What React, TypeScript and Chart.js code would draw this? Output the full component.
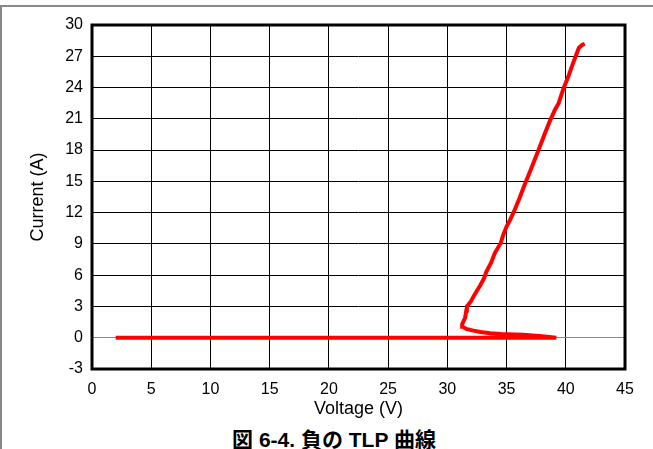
import { useEffect, useRef } from "react";
import { Chart, registerables } from "chart.js";

Chart.register(...registerables);

// TLP curve: voltage (V) and current (A), in drawing order
const voltage = [
  2, 5, 10, 15, 20, 25, 30, 33, 36, 39.2,
  38.0, 36.4, 34.5, 33.6, 32.8, 32.2, 31.6, 31.3, 31.25, 31.5,
  31.6, 31.65, 32.0, 32.2, 32.5, 32.8, 33.1, 33.3, 33.7, 34.0,
  34.5, 34.7, 35.0, 35.3, 35.7, 36.1, 36.5, 37.0, 37.7, 38.2,
  38.7, 39.1, 39.4, 39.8, 40.2, 40.6, 40.9, 41.1, 41.4, 41.6
];
const current = [
  0, 0, 0, 0, 0, 0, 0, 0, 0, 0,
  0.15, 0.29, 0.36, 0.43, 0.55, 0.68, 0.85, 1.05, 1.3, 1.9,
  2.6, 3.0, 3.5, 3.94, 4.5, 5.06, 5.7, 6.34, 7.2, 8.1,
  9.06, 9.8, 10.66, 11.3, 12.3, 13.4, 14.6, 16.0, 18.0, 19.5,
  20.9, 21.9, 22.5, 23.9, 25.0, 26.3, 27.2, 27.8, 28.1, 28.2
];

const xTicks = [0, 5, 10, 15, 20, 25, 30, 35, 40, 45];
const yTicks = [-3, 0, 3, 6, 9, 12, 15, 18, 21, 24, 27, 30];

const font = "'Liberation Sans', Arial, sans-serif";

const frameBorder = {
  id: "frameBorder",
  afterDatasetsDraw(chart: Chart) {
    const { ctx, chartArea } = chart;
    ctx.save();
    ctx.strokeStyle = "#000";
    ctx.lineWidth = 3;
    ctx.strokeRect(chartArea.left, chartArea.top, chartArea.right - chartArea.left, chartArea.bottom - chartArea.top);
    ctx.restore();
  }
};

export default function App() {
  const chartRef = useRef<HTMLCanvasElement | null>(null);
  const chartInstance = useRef<Chart | null>(null);

  useEffect(() => {
    if (!chartRef.current) {
      return;
    }
    if (chartInstance.current) {
      chartInstance.current.destroy();
    }

    chartInstance.current = new Chart(chartRef.current, {
      type: "scatter",
      data: {
        datasets: [
          {
            data: voltage.map((v, i) => ({ x: v, y: current[i] })),
            showLine: true,
            borderColor: "#ff0000",
            borderWidth: 4,
            pointRadius: 0,
            tension: 0
          }
        ]
      },
      options: {
        responsive: false,
        animation: false,
        layout: { padding: { left: 0, right: 28, top: 25, bottom: 0 } },
        plugins: {
          legend: { display: false },
          tooltip: { enabled: false }
        },
        scales: {
          x: {
            type: "linear",
            min: 0,
            max: 45,
            afterBuildTicks: (scale) => {
              scale.ticks = xTicks.map((v) => ({ value: v }));
            },
            afterFit: (scale) => {
              scale.height = 51;
            },
            ticks: {
              color: "#000",
              padding: 11,
              maxRotation: 0,
              font: { family: font, size: 16 }
            },
            grid: { color: "#000", lineWidth: 1, drawTicks: false },
            border: { display: false },
            title: {
              display: true,
              text: "Voltage (V)",
              color: "#000",
              padding: { top: 0, bottom: 0 },
              font: { family: font, size: 18 }
            }
          },
          y: {
            type: "linear",
            min: -3,
            max: 30,
            afterBuildTicks: (scale) => {
              scale.ticks = yTicks.map((v) => ({ value: v }));
            },
            afterFit: (scale) => {
              scale.width = 92;
            },
            ticks: {
              color: "#000",
              padding: 9,
              font: { family: font, size: 16 }
            },
            grid: {
              color: (ctx) => (ctx.tick && ctx.tick.value === 0 ? "#888" : "#000"),
              lineWidth: 1,
              drawTicks: false
            },
            border: { display: false },
            title: {
              display: true,
              text: "Current (A)",
              color: "#000",
              padding: { top: 27, bottom: 0 },
              font: { family: font, size: 18 }
            }
          }
        }
      },
      plugins: [frameBorder]
    });

    return () => {
      chartInstance.current?.destroy();
      chartInstance.current = null;
    };
  }, []);

  return (
    <div
      style={{
        position: "absolute",
        left: 0,
        top: 0,
        width: 653,
        height: 449,
        overflow: "hidden",
        background: "#fff"
      }}
    >
      <div
        style={{
          position: "absolute",
          left: 0,
          top: 5,
          width: 653,
          height: 444,
          borderTop: "2px solid #888",
          borderLeft: "2px solid #888",
          boxSizing: "border-box"
        }}
      />
      <canvas ref={chartRef} width={653} height={420} style={{ position: "absolute", left: 0, top: 0 }}></canvas>
      <div
        style={{
          position: "absolute",
          left: 0,
          top: 429,
          width: 668,
          textAlign: "center",
          fontFamily: "'Liberation Sans', 'Noto Sans CJK JP', sans-serif",
          fontWeight: "bold",
          fontSize: 21,
          lineHeight: "21px",
          color: "#000",
          whiteSpace: "nowrap"
        }}
      >
        図 6-4. 負の TLP 曲線
      </div>
    </div>
  );
}
